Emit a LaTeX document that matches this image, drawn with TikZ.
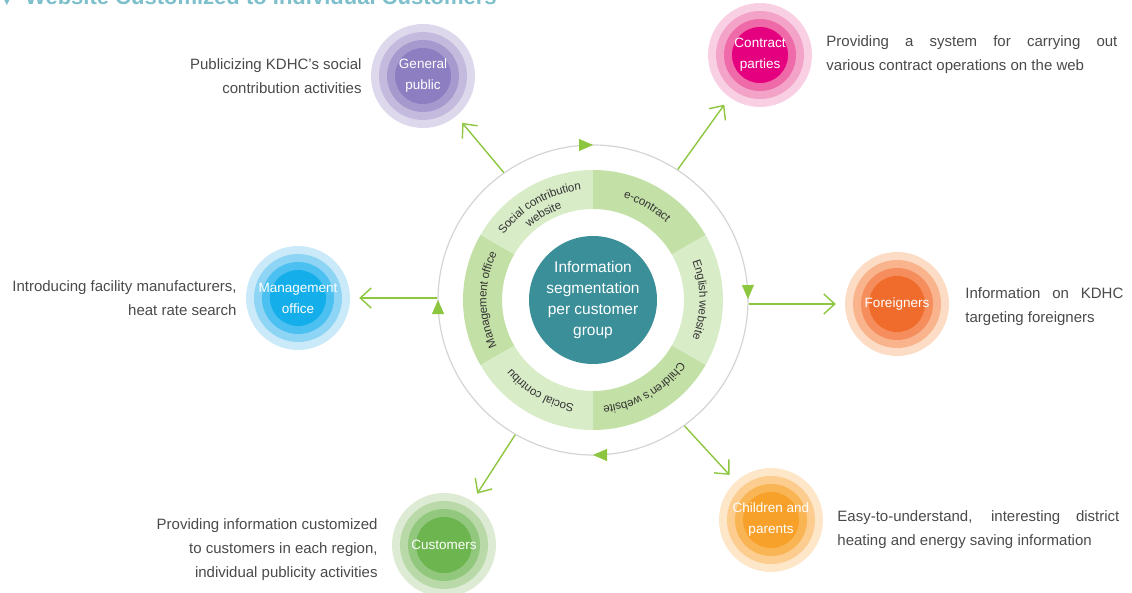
\documentclass[tikz,border=0pt]{standalone}
\usepackage{fontspec}
\setmainfont{Liberation Sans}
\newfontfamily\symfont{DejaVu Sans}
\usepackage{tikz}
\usetikzlibrary{positioning, arrows.meta, calc, decorations.markings, decorations.text}
\definecolor{titleblue}{HTML}{7DBFCB}
\definecolor{desctext}{HTML}{4A4A4A}
\definecolor{ringgrey}{HTML}{D4D4D4}
\definecolor{tipgreen}{HTML}{8CC63F}
\definecolor{linkgreen}{HTML}{8DC63F}
\definecolor{segdark}{HTML}{C3E0A6}
\definecolor{seglight}{HTML}{D9ECC8}
\definecolor{hubteal}{HTML}{3A8F99}
% bubble layers, outer (1) to inner (4)
\definecolor{pub1}{HTML}{DDD8EC}\definecolor{pub2}{HTML}{C3BADD}\definecolor{pub3}{HTML}{A699CE}\definecolor{pub4}{HTML}{8C7EC0}
\definecolor{con1}{HTML}{F9D0E3}\definecolor{con2}{HTML}{F4A3C8}\definecolor{con3}{HTML}{EE6AA8}\definecolor{con4}{HTML}{E4007F}
\definecolor{mgmt1}{HTML}{CBEAF9}\definecolor{mgmt2}{HTML}{8ED5F5}\definecolor{mgmt3}{HTML}{4CC0F0}\definecolor{mgmt4}{HTML}{14AEEA}
\definecolor{frn1}{HTML}{FDDCC6}\definecolor{frn2}{HTML}{F9B48E}\definecolor{frn3}{HTML}{F58E5C}\definecolor{frn4}{HTML}{F06C2C}
\definecolor{kids1}{HTML}{FEE6C8}\definecolor{kids2}{HTML}{FCCD8E}\definecolor{kids3}{HTML}{F9B454}\definecolor{kids4}{HTML}{F7A12A}
\definecolor{cust1}{HTML}{DDEBD4}\definecolor{cust2}{HTML}{B9DAA8}\definecolor{cust3}{HTML}{92C77E}\definecolor{cust4}{HTML}{6DB54F}
\newcommand{\seglabelfont}{\color{black!80}\fontsize{11.6}{13}\selectfont}
\tikzset{
  title/.style={
    text=titleblue,
    font=\fontsize{22}{26}\selectfont\bfseries,
    inner sep=0pt
  },
  ring/.style={
    circle,
    draw=ringgrey,
    line width=1.2pt,
    minimum size=310pt,
    inner sep=0pt
  },
  ring tips/.style={
    color=tipgreen,
    postaction={decorate},
    decoration={markings,
      mark=at position 0.001 with {\arrowreversed{Triangle[length=14pt,width=12pt]}},
      mark=at position 0.25 with {\arrowreversed{Triangle[length=14pt,width=12pt]}},
      mark=at position 0.5 with {\arrowreversed{Triangle[length=14pt,width=12pt]}},
      mark=at position 0.75 with {\arrowreversed{Triangle[length=14pt,width=12pt]}}}
  },
  ring label/.style={
    decorate,
    decoration={text along path, text={|\seglabelfont|#1}, text align=center, raise=-3.5pt}
  },
  hub/.style={
    circle,
    fill=hubteal,
    minimum size=128pt,
    inner sep=0pt,
    text=white,
    align=center,
    font=\fontsize{15.5}{21}\selectfont
  },
  bubble/.style={circle, minimum size=104pt, inner sep=0pt},
  bubble text/.style={
    text=white,
    align=center,
    inner sep=0pt,
    font=\fontsize{13.5}{21}\selectfont
  },
  desc/.style={
    text=desctext,
    inner sep=0pt,
    font=\fontsize{15}{24}\selectfont
  },
  link/.style={
    -{Straight Barb[length=11pt,width=20pt]},
    line width=1.4pt,
    color=linkgreen,
    shorten >=9pt
  }
}
\begin{document}
\begin{tikzpicture}[x=1pt, y=1pt]
  \useasboundingbox (0,0) rectangle (1132,592);

  % heading, cut by the top edge
  \node[title, anchor=base west] (title) at (25,587) {Website Customized to Individual Customers};
  \node[text=titleblue, inner sep=0pt, anchor=base, font=\symfont\fontsize{10}{10}\selectfont] (title mark) at (7,587) {▼};

  % grey ring with its four tips
  \node[ring] (ring) at (593,292) {};
  \path[ring tips] (ring.center) circle[radius=155pt];

  % green ring of websites
  \foreach \a/\c in {90/seglight, 30/segdark, -30/seglight, -90/segdark, -150/seglight, 150/segdark}
    \fill[\c] ($(ring.center)+(\a:91pt)$) -- ($(ring.center)+(\a:130pt)$)
      arc[start angle=\a, end angle=\a+60, radius=130pt]
      -- ($(ring.center)+(\a+60:91pt)$)
      arc[start angle=\a+60, end angle=\a, radius=91pt] -- cycle;

  \path[ring label=Social contribution] ($(ring.center)+(160:114pt)$) arc[start angle=160, end angle=80, radius=114pt];
  \path[ring label=website] ($(ring.center)+(160:100pt)$) arc[start angle=160, end angle=80, radius=100pt];
  \path[ring label=e-contract] ($(ring.center)+(100:110pt)$) arc[start angle=100, end angle=20, radius=110pt];
  \path[ring label=English website] ($(ring.center)+(40:110pt)$) arc[start angle=40, end angle=-40, radius=110pt];
  \path[ring label=Children's website] ($(ring.center)+(-20:110pt)$) arc[start angle=-20, end angle=-100, radius=110pt];
  \path[ring label=Social contribu] ($(ring.center)+(-80:110pt)$) arc[start angle=-80, end angle=-160, radius=110pt];
  \path[ring label=Management office] ($(ring.center)+(220:110pt)$) arc[start angle=220, end angle=140, radius=110pt];

  \node[hub] (info) at (ring.center) {Information\\segmentation\\per customer\\group};

  % customer groups
  \foreach \n/\x/\y in {pub/423/516, con/760/537, mgmt/298/294, frn/897/288, kids/771/72, cust/444/47} {
    \node[bubble, fill=\n1] (\n) at (\x,\y) {};
    \foreach \r/\k in {44/2, 36/3, 28/4}
      \fill[\n\k] (\n) circle[radius=\r pt];
  }
  \node[bubble text] (pub text) at (pub) {General\\public};
  \node[bubble text] (con text) at (con) {Contract\\parties};
  \node[bubble text] (mgmt text) at (mgmt) {Management\\office};
  \node[bubble text] (frn text) at (frn) {Foreigners};
  \node[bubble text] (kids text) at (kids) {Children and\\parents};
  \node[bubble text] (cust text) at (cust) {Customers};

  % what each group gets
  \node[desc, align=right, left=9pt of pub] (pub desc) {Publicizing KDHC’s social\\contribution activities};
  \node[desc, align=justify, text width=291pt, right=14pt of con] (con desc) {Providing a system for carrying out\linebreak various contract operations on the web};
  \node[desc, align=right, left=9pt of mgmt] (mgmt desc) {Introducing facility manufacturers,\\heat rate search};
  \node[desc, align=justify, text width=158pt, right=16pt of frn, yshift=-3pt] (frn desc) {Information on KDHC\linebreak targeting foreigners};
  \node[desc, align=justify, text width=282pt, right=14pt of kids, yshift=-10pt] (kids desc) {Easy-to-understand, interesting district\linebreak heating and energy saving information};
  \node[desc, align=right, left=14pt of cust, yshift=-5pt] (cust desc) {Providing information customized\\to customers in each region,\\individual publicity activities};

  % links out of the ring
  \draw[link] (ring.125) -- (pub);
  \draw[link] (ring.57) -- (con);
  \draw[link] (ring.west |- mgmt) -- (mgmt);
  \draw[link] (ring.east |- frn) -- (frn);
  \draw[link] (ring.-54) -- (kids);
  \draw[link] (ring.-120) -- (cust);
\end{tikzpicture}
\end{document}
